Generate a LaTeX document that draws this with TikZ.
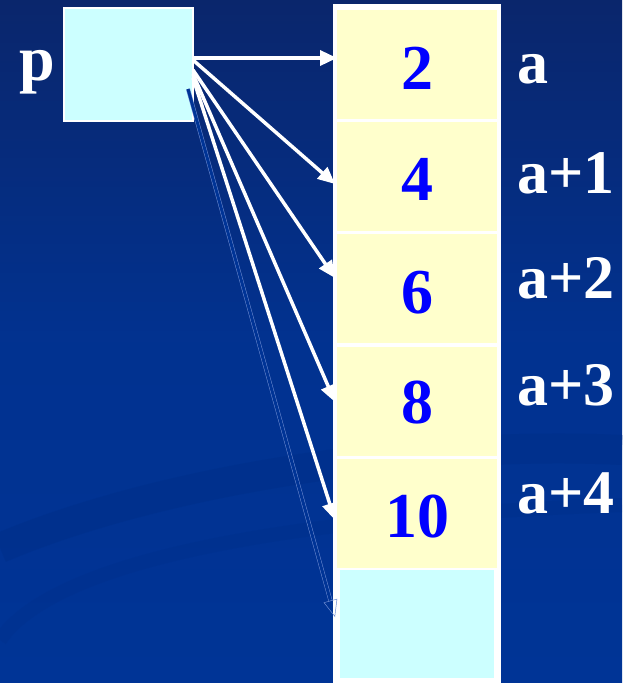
\documentclass[tikz,border=0pt]{standalone}
\usepackage{fontspec}
\setmainfont{Liberation Serif}
\usetikzlibrary{arrows.meta}
\definecolor{bgtop}{RGB}{10,38,108}
\definecolor{bgbot}{RGB}{0,52,150}
\definecolor{swirl}{RGB}{0,44,130}
\definecolor{cellyellow}{RGB}{255,255,204}
\definecolor{cellcyan}{RGB}{204,255,255}
\definecolor{numblue}{RGB}{0,0,255}
\definecolor{dblout}{RGB}{110,140,210}
\tikzset{
  cellbox/.style={rectangle, fill=cellyellow, draw=white, line width=3pt, minimum width=163pt, minimum height=112pt, inner sep=0pt},
  numtxt/.style={anchor=base, text=numblue, font=\fontsize{64}{64}\selectfont\bfseries, inner sep=0pt},
  addrtxt/.style={anchor=base west, text=white, font=\fontsize{62}{62}\selectfont\bfseries, inner sep=0pt},
  ptr/.style={draw=white, line width=3.5pt, -{Triangle[length=17pt,width=15pt]}},
  ghost/.style={draw=dblout, line width=0.5pt, double=bgbot, double distance=3pt, -{Triangle[open,length=17pt,width=14pt]}}
}
\begin{document}
\begin{tikzpicture}[x=1pt,y=-1pt]
\useasboundingbox (0,0) rectangle (622,683);
% background
\shade[top color=bgtop, bottom color=bgbot, middle color=bgbot!85!bgtop] (0,0) rectangle (622,683);
\draw[swirl, line width=30pt, opacity=0.3] (0,548) .. controls (160,480) and (420,440) .. (622,450);
\draw[swirl, line width=14pt, opacity=0.2] (0,640) .. controls (40,580) and (200,520) .. (622,505);
% column
\fill[white] (333,4) rectangle (501,683);
\node[cellbox] (c1) at (417,64) {};
\node[cellbox] (c2) at (417,176) {};
\node[cellbox] (c3) at (417,288) {};
\node[cellbox] (c4) at (417,401) {};
\node[cellbox] (c5) at (417,513) {};
\node[rectangle, fill=cellcyan, minimum width=154pt, minimum height=108pt, inner sep=0pt] (c6) at (417,624) {};
% numbers
\node[numtxt] (n1) at (417,89) {2};
\node[numtxt] (n2) at (417,200) {4};
\node[numtxt] (n3) at (417,313) {6};
\node[numtxt] (n4) at (417,423) {8};
\node[numtxt] (n5) at (417,537) {10};
% addresses
\node[addrtxt] (a1) at (517,83) {a};
\node[addrtxt] (a2) at (517,193) {a+1};
\node[addrtxt] (a3) at (517,298) {a+2};
\node[addrtxt] (a4) at (517,405) {a+3};
\node[addrtxt] (a5) at (517,513) {a+4};
% pointer
\node[rectangle, fill=cellcyan, draw=white, line width=1.5pt, minimum width=129pt, minimum height=113pt, inner sep=0pt] (p) at (128.5,64.5) {};
\node[anchor=base, text=white, font=\fontsize{64}{64}\selectfont\bfseries, inner sep=0pt] (plabel) at (37,80) {p};
% arrow endpoints
\coordinate (s1) at (193,58);
\coordinate (s2) at (193,60);
\coordinate (s3) at (193,70);
\coordinate (s4) at (193,74);
\coordinate (s5) at (193,78);
\coordinate (s6) at (188,89);
\coordinate (t1) at (337,58);
\coordinate (t2) at (335,184);
\coordinate (t3) at (335,278);
\coordinate (t4) at (335,402);
\coordinate (t5) at (335,520);
\coordinate (t6) at (335,617);
\draw[ghost] (s6) -- (t6);
\draw[ptr] (s1) -- (t1);
\draw[ptr] (s2) -- (t2);
\draw[ptr] (s3) -- (t3);
\draw[ptr] (s4) -- (t4);
\draw[ptr] (s5) -- (t5);
\end{tikzpicture}
\end{document}
